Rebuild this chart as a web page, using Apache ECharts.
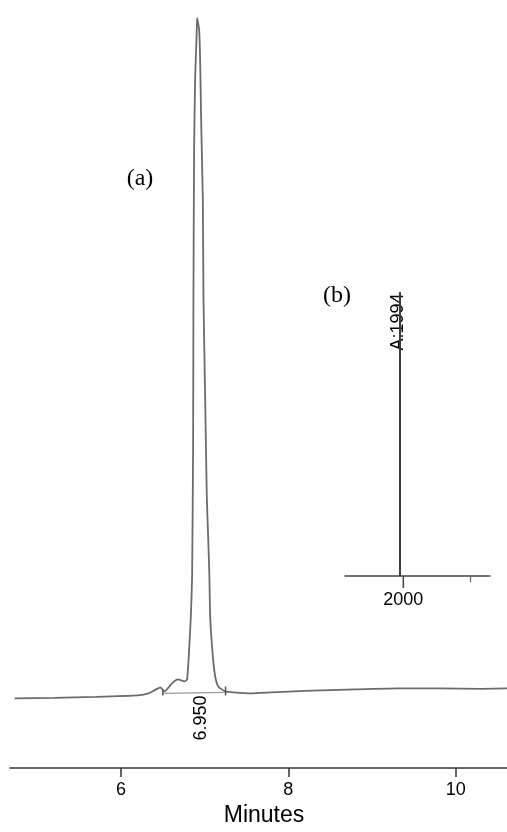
<!DOCTYPE html>
<html>
<head>
<meta charset="utf-8">
<script src="https://cdn.jsdelivr.net/npm/echarts@6/dist/echarts.min.js"></script>
<style>
html,body{margin:0;padding:0;background:#fff;}
#chart{width:507px;height:832px;}
</style>
</head>
<body>
<div id="chart"></div>
<script>
// Main chromatogram (a): retention time (min) vs detector signal (arbitrary units)
var mainTime = [4.73, 5.2, 5.7, 6.2, 6.33, 6.42, 6.47, 6.52, 6.61, 6.68, 6.76, 6.79, 6.81, 6.835, 6.85, 6.862, 6.866, 6.874, 6.886, 6.904, 6.91, 6.934, 6.946, 6.958, 6.978, 6.986, 7.006, 7.026, 7.046, 7.057, 7.066, 7.098, 7.126, 7.162, 7.246, 7.35, 7.55, 7.8, 8.2, 8.8, 9.3, 9.8, 10.3, 10.62];
var mainSignal = [-2, -1.5, -0.5, 1, 3, 7, 9, 5, 13, 17, 15, 17, 40, 80, 120, 250, 400, 550, 620, 665, 682, 670, 640, 580, 500, 400, 300, 200, 150, 120, 80, 40, 20, 10, 5, 4, 3, 4, 5.5, 7, 8, 8, 7.5, 8];
// integration baseline and its end marks
var baseTime = [6.50, 7.25];
var baseSignal = [3, 4];
var markTime = [6.50, 7.25];
var markLow = [1, 1];
var markHigh = [7, 10];
var xTicks = [6, 8, 10];
var peakLabel = '6.950';

// Inset (b)
var insetPeakX = 1994;
var insetPeakIntensity = 100;
var insetTicks = [2000];
var insetMinorTick = 2121;
var insetPeakLabel = 'A:1994';

var mainData = mainTime.map(function (t, i) { return [t, mainSignal[i]]; });
var baseData = baseTime.map(function (t, i) { return [t, baseSignal[i]]; });

var series = [
  {
    type: 'line', xAxisIndex: 0, yAxisIndex: 0, data: mainData,
    showSymbol: false, smooth: 0.15, lineStyle: { color: '#6b6b6b', width: 1.8 }, silent: true
  },
  {
    type: 'line', xAxisIndex: 0, yAxisIndex: 0, data: baseData,
    showSymbol: false, lineStyle: { color: '#9a9a9a', width: 1.2 }, silent: true
  }
];
markTime.forEach(function (t, i) {
  series.push({
    type: 'line', xAxisIndex: 0, yAxisIndex: 0,
    data: [[t, markLow[i]], [t, markHigh[i]]],
    showSymbol: false, lineStyle: { color: '#555', width: 1.5 }, silent: true
  });
});
series.push({
  type: 'line', xAxisIndex: 1, yAxisIndex: 1,
  data: [[insetPeakX, 0], [insetPeakX, insetPeakIntensity]],
  showSymbol: false, lineStyle: { color: '#3a3a3a', width: 2 }, silent: true
});
series.push({
  type: 'line', xAxisIndex: 1, yAxisIndex: 1, clip: false,
  data: [[insetTicks[0], 0], [insetTicks[0], -4.2]],
  showSymbol: false, lineStyle: { color: '#444', width: 1.5 }, silent: true
});
series.push({
  type: 'line', xAxisIndex: 1, yAxisIndex: 1, clip: false,
  data: [[insetMinorTick, 0], [insetMinorTick, -2.2]],
  showSymbol: false, lineStyle: { color: '#666', width: 1.2 }, silent: true
});

var chart = echarts.init(document.getElementById('chart'), null, { renderer: 'canvas' });
chart.setOption({
  backgroundColor: '#ffffff',
  animation: false,
  grid: [
    { left: 10, right: 0, top: 0, bottom: 60 },
    { left: 345, width: 145, top: 292, height: 284 }
  ],
  xAxis: [
    {
      gridIndex: 0, type: 'value', min: 4.674, max: 10.613,
      name: 'Minutes', nameLocation: 'middle', nameGap: 36,
      nameTextStyle: { fontFamily: 'Liberation Sans', fontSize: 23, color: '#000', padding: [0, 0, 0, 11] },
      axisLine: { show: true, onZero: false, lineStyle: { color: '#333', width: 1.5 } },
      axisTick: { show: true, customValues: xTicks, length: 9, lineStyle: { color: '#333', width: 1.5 } },
      axisLabel: { customValues: xTicks, margin: 13, fontFamily: 'Liberation Sans', fontSize: 18, color: '#000' },
      splitLine: { show: false }
    },
    {
      gridIndex: 1, type: 'value', min: 1895, max: 2156,
      axisLine: { show: true, onZero: false, lineStyle: { color: '#444', width: 1.5 } },
      axisTick: { show: false },
      axisLabel: { customValues: insetTicks, margin: 15, fontFamily: 'Liberation Sans', fontSize: 18, color: '#000',
        formatter: function (v) { return String(v); } },
      splitLine: { show: false }
    }
  ],
  yAxis: [
    { gridIndex: 0, type: 'value', min: -72, max: 700, show: false, splitLine: { show: false } },
    { gridIndex: 1, type: 'value', min: 0, max: 100, show: false, splitLine: { show: false } }
  ],
  graphic: [
    { type: 'text', x: 140, y: 179, style: { text: '(a)', font: '24px "Liberation Serif"', fill: '#000', textAlign: 'center', textVerticalAlign: 'middle' } },
    { type: 'text', x: 337, y: 296, style: { text: '(b)', font: '24px "Liberation Serif"', fill: '#000', textAlign: 'center', textVerticalAlign: 'middle' } },
    { type: 'text', x: 201, y: 718, rotation: Math.PI / 2, style: { text: peakLabel, font: '18px "Liberation Sans"', fill: '#000', textAlign: 'center', textVerticalAlign: 'middle' } },
    { type: 'text', x: 398, y: 322, rotation: Math.PI / 2, style: { text: insetPeakLabel, font: '18px "Liberation Sans"', fill: '#000', textAlign: 'center', textVerticalAlign: 'middle' } }
  ],
  series: series
});
</script>
</body>
</html>
